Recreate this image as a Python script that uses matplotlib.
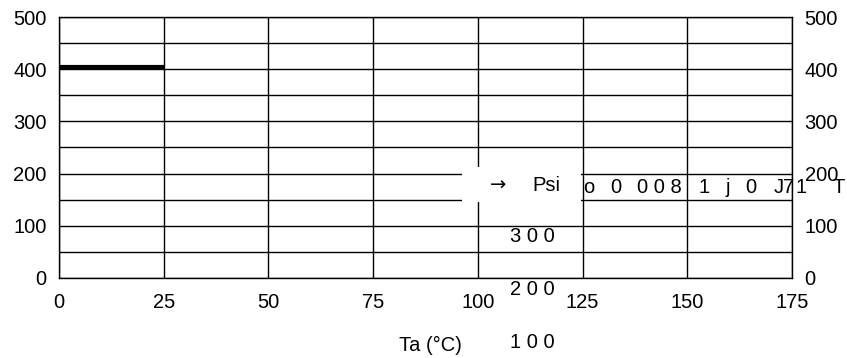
import matplotlib.pyplot as plt
from matplotlib.patches import Rectangle

plt.rcParams["font.family"] = ["Liberation Sans", "DejaVu Sans"]

# data
ta = [0, 25]
psi = [405, 405]
xticks = [0, 25, 50, 75, 100, 125, 150, 175]
yticks = [0, 100, 200, 300, 400, 500]

# stray text fragments (text, x, y) in data units
fragments = [
    ("Psi", 112.9, 178),
    ("o", 125.1, 174),
    ("0", 131.6, 174),
    ("0 0 8", 138.0, 174),
    ("1", 152.6, 174),
    ("j", 159.0, 174),
    ("0", 163.8, 174),
    ("J", 170.5, 174),
    ("7", 172.9, 174),
    ("1", 175.7, 174),
    ("T", 184.6, 174),
]
stacked = [("3 0 0", 113, 80), ("2 0 0", 113, -23), ("1 0 0", 113, -123)]

fig = plt.figure(figsize=(8.47, 3.58), dpi=100)
ax = fig.add_axes([0.0697, 0.2235, 0.8655, 0.729])

ax.plot(ta, psi, color="black", lw=3, solid_capstyle="butt", zorder=3)

ax.set_xlim(0, 175)
ax.set_ylim(0, 500)
ax.set_xticks(xticks)
ax.set_yticks(yticks)
ax.set_yticks(range(50, 500, 100), minor=True)
ax.grid(True, which="both", color="black", lw=1)
ax.tick_params(which="both", length=0, labelsize=14.5)
ax.tick_params(axis="x", pad=11)
ax.tick_params(axis="y", pad=9, labelright=True)
for s in ax.spines.values():
    s.set_linewidth(1)

ax.add_patch(Rectangle((96.2, 145), 28.3, 67, facecolor="white",
                       edgecolor="none", zorder=2))

ax.text(102.9, 178, "\u2192", fontsize=14, family="DejaVu Sans",
        ha="left", va="center", zorder=4)
for t, x, y in fragments:
    ax.text(x, y, t, fontsize=14.5, ha="left", va="center", zorder=4,
            clip_on=False)
for t, x, y in stacked:
    ax.text(x, y, t, fontsize=14.5, ha="center", va="center",
            clip_on=False)

fig.text(430 / 847, 1 - 345 / 358, "Ta (\u00b0C)", fontsize=14.5,
         ha="center", va="center")

fig.savefig("out.png", dpi=100)
